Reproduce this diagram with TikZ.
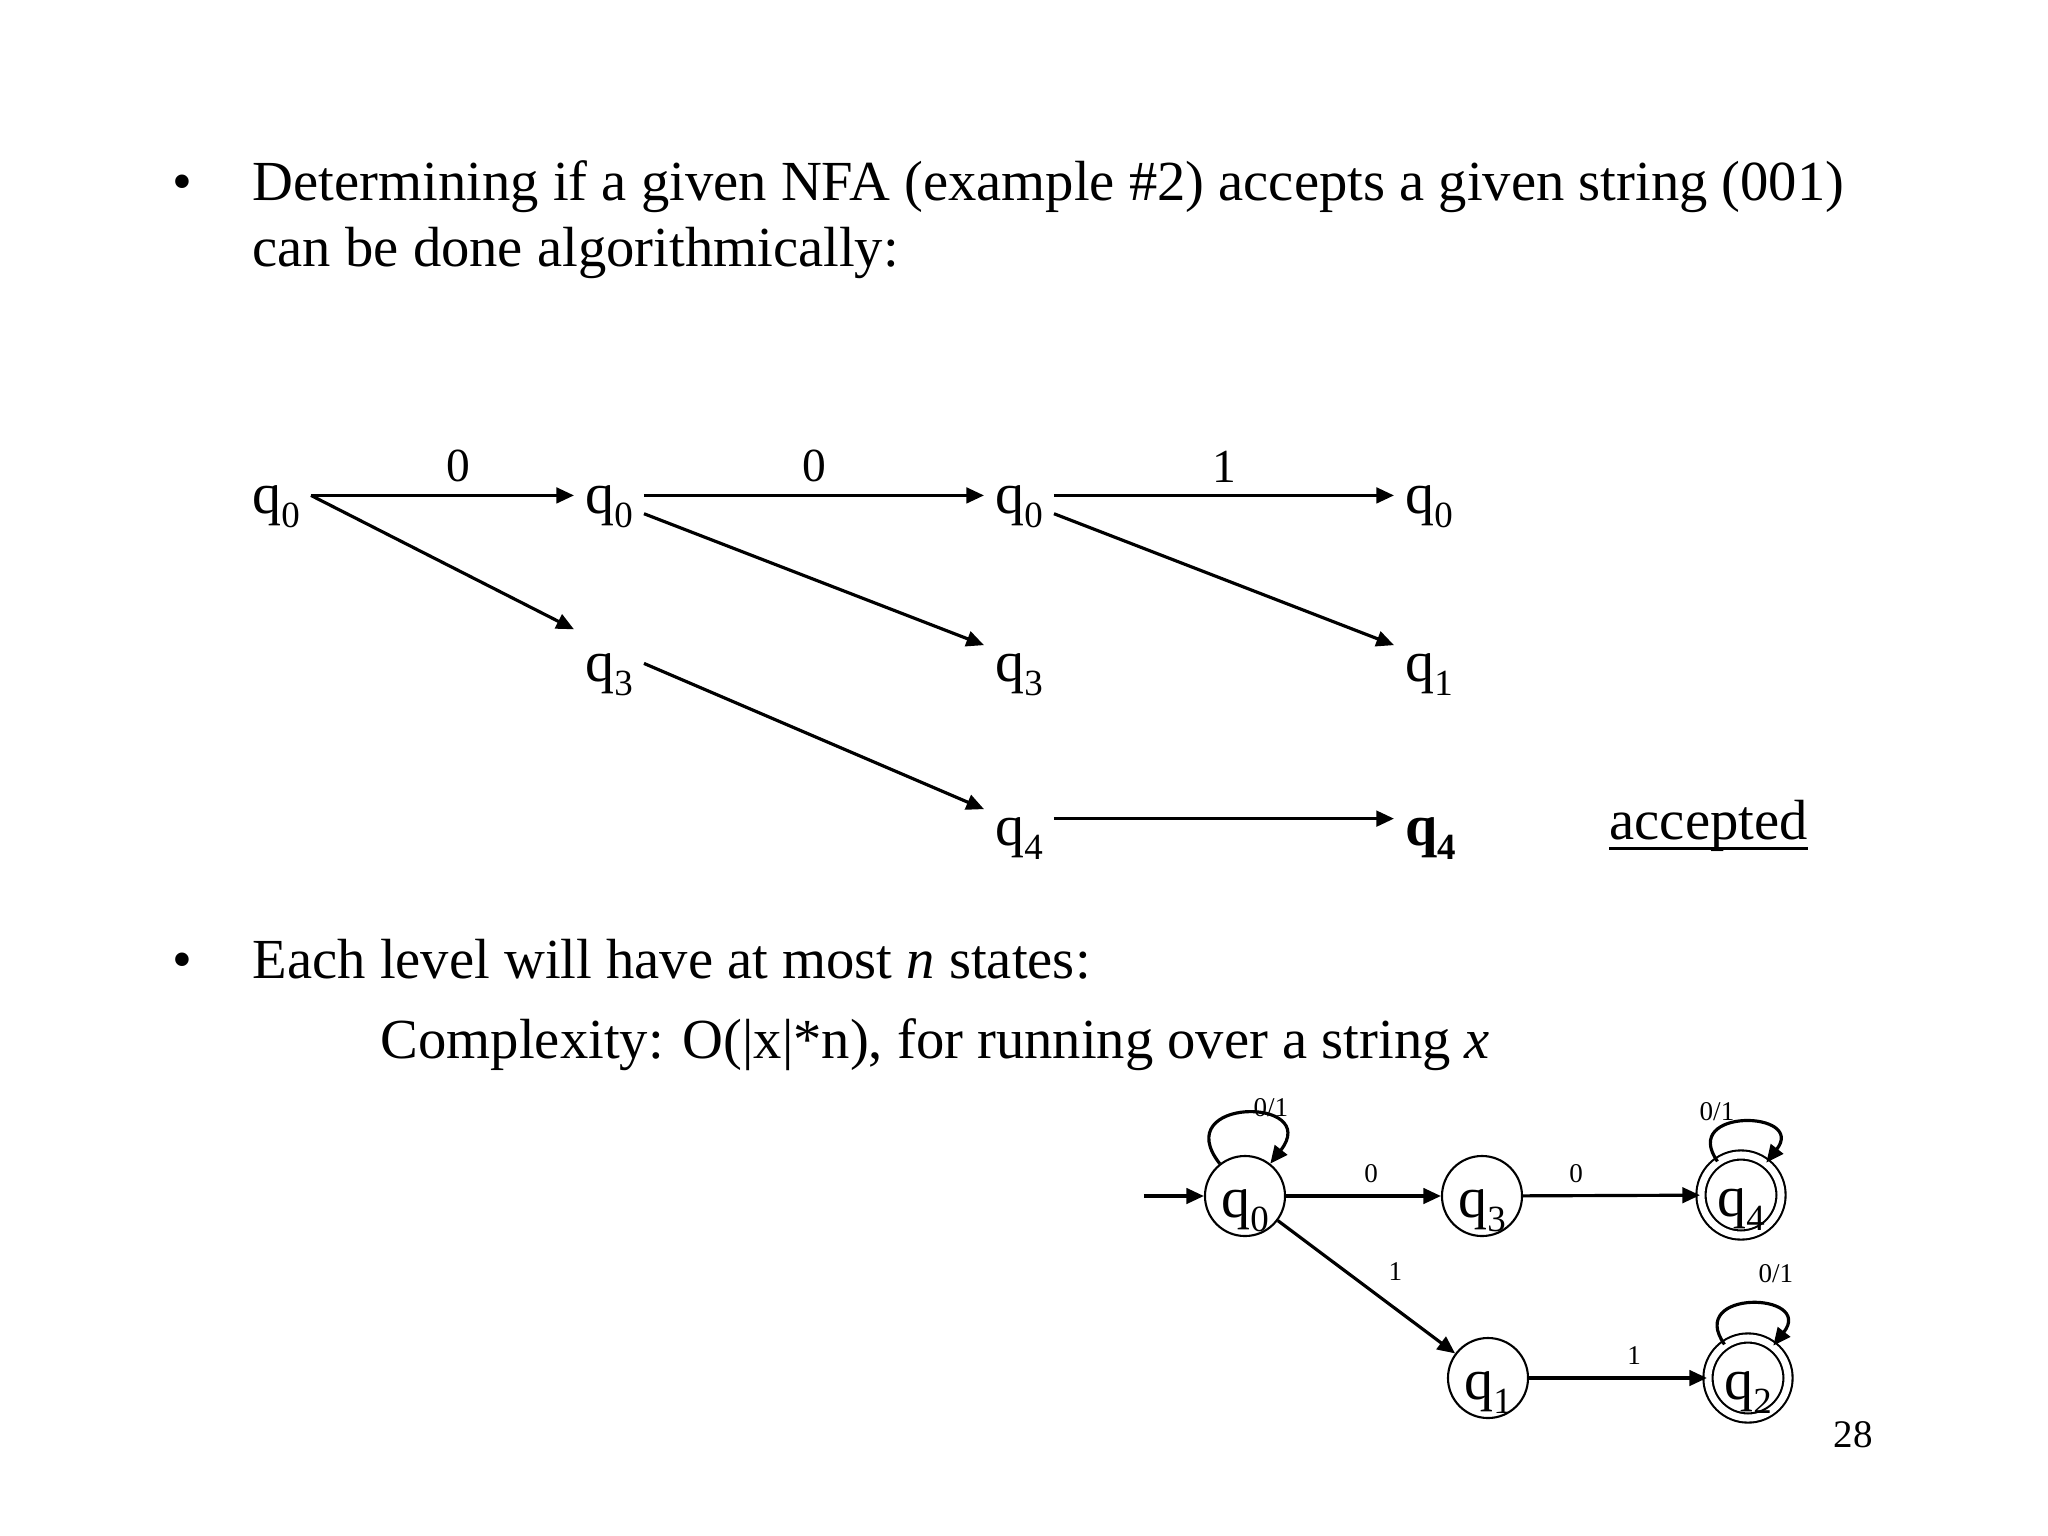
\documentclass[tikz,border=0pt]{standalone}
\usepackage{fontspec}
\setmainfont{Liberation Serif}
\usetikzlibrary{arrows.meta,automata}

\newcommand{\qsub}[1]{\raisebox{-4pt}{\fontsize{10.5}{11}\selectfont #1}}

\tikzset{
  body/.style={font=\fontsize{16.1}{19}\selectfont, anchor=base west, inner sep=0pt},
  lvl/.style={font=\fontsize{16.5}{18}\selectfont, anchor=base west,
    inner xsep=3pt, inner ysep=0pt, text height=10pt, text depth=0pt},
  lab/.style={font=\fontsize{13.5}{15}\selectfont},
  tlab/.style={font=\fontsize{7.7}{9}\selectfont},
  flow/.style={->, line width=0.9pt},
}

\begin{document}
\begin{tikzpicture}[x=0.01cm, y=0.01cm,
   >={Triangle[length=5pt,width=4.4pt]},
   every state/.style={draw, line width=0.6pt, minimum size=0.8cm, inner sep=0pt,
     font=\fontsize{16.5}{18}\selectfont, text height=12pt, text depth=0pt},
   accepting/.style={double, double distance=2pt},
   initial text={}, initial distance=0.6cm,
   every initial by arrow/.style={line width=0.9pt}]
\useasboundingbox (0,0) rectangle (2048,-1536);

% slide text
\node[body] (bul1) at (172,-200) {\textbullet};
\node[body] (t1) at (252,-200) {Determining if a given NFA (example \#2) accepts a given string (001)};
\node[body] (t2) at (252,-266) {can be done algorithmically:};
\node[body] (bul2) at (172,-978) {\textbullet};
\node[body] (t3) at (252,-978) {Each level will have at most \textit{n} states:};
\node[body] (t4) at (380,-1058) {Complexity: O(|x|*n), for running over a string \textit{x}};
\node[font=\fontsize{11.1}{13}\selectfont] (pg) at (1853,-1435) {28};

% levels of the run on 001
\node[lvl] (a0) at (241,-513) {q\qsub{0}};
\node[lvl] (b0) at (574,-513) {q\qsub{0}};
\node[lvl] (b3) at (574,-681) {q\qsub{3}};
\node[lvl] (c0) at (984,-513) {q\qsub{0}};
\node[lvl] (c3) at (984,-681) {q\qsub{3}};
\node[lvl] (c4) at (984,-845) {q\qsub{4}};
\node[lvl] (d0) at (1394,-513) {q\qsub{0}};
\node[lvl] (d1) at (1394,-681) {q\qsub{1}};
\node[lvl] (d4) at (1394,-845) {\bfseries q\qsub{4}};
\node[body] (acc) at (1609,-839) {accepted};
\draw[line width=0.8pt] ([yshift=-2.6pt]acc.base west) -- ([yshift=-2.6pt]acc.base east);

\draw[flow] (a0) -- node[lab, above, pos=0.56] {0} (b0);
\draw[flow] (a0.east) -- ([yshift=4.5pt]b3.north west);
\draw[flow] (b0) -- node[lab, above] {0} (c0);
\draw[flow] (b0.south east) -- (c3.north west);
\draw[flow] (b3.east) -- (c4.north west);
\draw[flow] (c0) -- node[lab, above] {1} (d0);
\draw[flow] (c0.south east) -- (d1.north west);
\draw[flow] ([yshift=2.5pt]c4.east) -- ([yshift=2.5pt]d4.west);

% the NFA (example #2)
\node[state, initial] (s0) at (1245,-1196) {q\qsub{0}};
\node[state] (s3) at (1482,-1196) {q\qsub{3}};
\node[state, accepting] (s4) at (1741,-1195) {q\qsub{4}};
\node[state] (s1) at (1488,-1378) {q\qsub{1}};
\node[state, accepting] (s2) at (1748,-1378) {q\qsub{2}};

\path[->, line width=0.9pt]
  (s0) edge[out=128, in=52, distance=0.85cm] node[tlab, right, inner sep=2pt, yshift=1.5pt] {0/1} (s0)
  (s0) edge node[tlab, above, pos=0.55] {0} (s3)
  (s3) edge node[tlab, above, pos=0.3] {0} (s4)
  (s4) edge[out=125, in=52, distance=0.66cm] node[tlab, left, inner sep=2pt, yshift=3pt] {0/1} (s4)
  (s0) edge node[tlab, above right, pos=0.55] {1} (s1)
  (s1) edge node[tlab, above, pos=0.59] {1} (s2)
  (s2) edge[out=125, in=52, distance=0.68cm] node[tlab, above right, inner sep=2pt, yshift=3.5pt] {0/1} (s2);
\end{tikzpicture}
\end{document}
